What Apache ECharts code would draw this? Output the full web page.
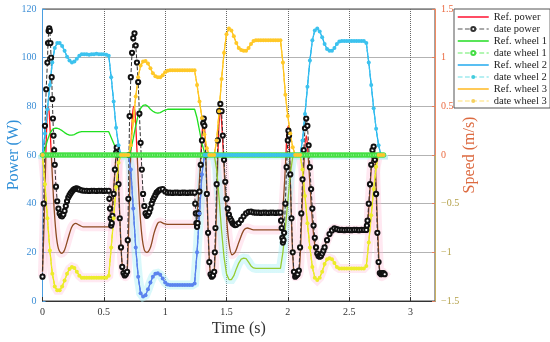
<!DOCTYPE html>
<html><head><meta charset="utf-8">
<script src="https://cdn.jsdelivr.net/npm/echarts@6/dist/echarts.min.js"></script>
<style>html,body{margin:0;padding:0;background:#fff}#c{width:550px;height:342px}</style>
</head><body><div id="c"></div>
<script>
// ---- data ----
const seriesNames = ['Ref. power','date power','Ref. wheel 1','date wheel 1','Ref. wheel 2','date wheel 2','Ref. wheel 3','date wheel 3'];
const xTicks = [0, 0.5, 1, 1.5, 2, 2.5, 3];
const powerTicks = [0, 20, 40, 60, 80, 100, 120];
const speedTicks = [-1.5, -1, -0.5, 0, 0.5, 1, 1.5];

// time base of the wheel speeds (s)
const time = [
0,0.02,0.04,0.06,0.08,0.1,0.12,0.14,0.16,0.18,
0.2,0.22,0.24,0.26,0.28,0.3,0.32,0.34,0.36,0.38,
0.4,0.42,0.44,0.46,0.48,0.5,0.52,0.54,0.56,0.58,
0.6,0.62,0.64,0.66,0.68,0.7,0.72,0.74,0.76,0.78,
0.8,0.82,0.84,0.86,0.88,0.9,0.92,0.94,0.96,0.98,
1,1.02,1.04,1.06,1.08,1.1,1.12,1.14,1.16,1.18,
1.2,1.22,1.24,1.26,1.28,1.3,1.32,1.34,1.36,1.38,
1.4,1.42,1.44,1.46,1.48,1.5,1.52,1.54,1.56,1.58,
1.6,1.62,1.64,1.66,1.68,1.7,1.72,1.74,1.76,1.78,
1.8,1.82,1.84,1.86,1.88,1.9,1.92,1.94,1.96,1.98,
2,2.02,2.04,2.06,2.08,2.1,2.12,2.14,2.16,2.18,
2.2,2.22,2.24,2.26,2.28,2.3,2.32,2.34,2.36,2.38,
2.4,2.42,2.44,2.46,2.48,2.5,2.52,2.54,2.56,2.58,
2.6,2.62,2.64,2.66,2.68,2.7,2.72,2.74,2.76,2.78];

// wheel speeds (m/s)
const refWheel1 = [
0,0.06,0.15,0.22,0.26,0.275,0.275,0.265,0.25,0.23,
0.215,0.205,0.205,0.21,0.225,0.235,0.24,0.24,0.24,0.24,
0.24,0.24,0.24,0.24,0.24,0.24,0.24,0.24,0.18,0.12,
0.06,0.02,0,0,0,0,0.05,0.17,0.3,0.41,
0.48,0.51,0.515,0.5,0.47,0.45,0.435,0.43,0.435,0.45,
0.46,0.47,0.47,0.47,0.47,0.47,0.47,0.47,0.47,0.47,
0.47,0.47,0.47,0.38,0.25,0.12,0.03,0,0,0,
0,-0.15,-0.45,-0.78,-1.05,-1.22,-1.28,-1.28,-1.24,-1.17,
-1.11,-1.07,-1.06,-1.065,-1.1,-1.14,-1.16,-1.165,-1.165,-1.165,
-1.165,-1.165,-1.165,-1.165,-1.165,-1.165,-1.165,-1.165,-1,-0.75,
-0.48,-0.2,-0.02,0,0,0,0,0,0,0,
0,0,0,0,0,0,0,0,0,0,
0,0,0,0,0,0,0,0,0,0,
0,0,0,0,0,0,0,0,0,0];
const dateWheel1 = [
0,0,0,0,0,0,0,0,0,0, 0,0,0,0,0,0,0,0,0,0,
0,0,0,0,0,0,0,0,0,0, 0,0,0,0,0,0,0,0,0,0,
0,0,0,0,0,0,0,0,0,0, 0,0,0,0,0,0,0,0,0,0,
0,0,0,0,0,0,0,0,0,0, 0,0,0,0,0,0,0,0,0,0,
0,0,0,0,0,0,0,0,0,0, 0,0,0,0,0,0,0,0,0,0,
0,0,0,0,0,0,0,0,0,0, 0,0,0,0,0,0,0,0,0,0,
0,0,0,0,0,0,0,0,0,0, 0,0,0,0,0,0,0,0,0,0];
const wheel2 = [
0,0.22,0.47,0.72,0.95,1.1,1.15,1.15,1.12,1.07,
1.01,0.97,0.95,0.96,0.99,1.02,1.035,1.035,1.035,1.03,
1.035,1.035,1.04,1.035,1.035,1.035,1.03,1.02,0.8,0.55,
0.28,0.1,0,0,0,0,-0.15,-0.55,-0.95,-1.25,
-1.42,-1.455,-1.44,-1.38,-1.31,-1.25,-1.22,-1.215,-1.23,-1.27,
-1.31,-1.33,-1.335,-1.335,-1.335,-1.335,-1.335,-1.335,-1.335,-1.335,
-1.335,-1.335,-1.32,-1,-0.6,-0.2,0,0,0,0,
0,0,0,0,0,0,0,0,0,0,
0,0,0,0,0,0,0,0,0,0,
0,0,0,0,0,0,0,0,0,0,
0,0,0,0,0,0,0.15,0.42,0.7,0.97,
1.18,1.28,1.3,1.27,1.21,1.14,1.09,1.07,1.07,1.1,
1.14,1.165,1.17,1.17,1.17,1.17,1.17,1.17,1.17,1.17,
1.17,1.17,1.15,0.95,0.72,0.48,0.27,0.1,0,0];
const wheel3 = [
0,-0.3,-0.65,-0.98,-1.22,-1.35,-1.39,-1.39,-1.35,-1.29,
-1.22,-1.17,-1.15,-1.16,-1.2,-1.24,-1.26,-1.26,-1.26,-1.26,
-1.26,-1.26,-1.26,-1.26,-1.26,-1.26,-1.26,-1.24,-0.95,-0.65,
-0.33,-0.08,0,0,0,0,0.1,0.35,0.6,0.8,
0.92,0.96,0.965,0.94,0.89,0.84,0.81,0.8,0.8,0.82,
0.85,0.865,0.87,0.87,0.87,0.87,0.87,0.87,0.87,0.87,
0.87,0.87,0.87,0.72,0.55,0.38,0.21,0.07,0,0,
0,0.15,0.45,0.78,1.05,1.24,1.3,1.28,1.22,1.15,
1.1,1.08,1.07,1.07,1.1,1.14,1.17,1.18,1.18,1.18,
1.18,1.18,1.18,1.18,1.18,1.18,1.18,1.18,0.95,0.62,
0.4,0.22,0.08,0,0,0,-0.15,-0.42,-0.7,-0.95,
-1.15,-1.26,-1.285,-1.26,-1.2,-1.12,-1.07,-1.06,-1.07,-1.11,
-1.15,-1.165,-1.165,-1.165,-1.165,-1.165,-1.165,-1.165,-1.165,-1.165,
-1.165,-1.165,-1.14,-0.9,-0.62,-0.35,-0.12,0,0,0];

// power (W): [time (s), power]
const refPower = [
[0,12],[0.015,35],[0.03,65],[0.045,80],[0.055,77],[0.07,62],[0.09,42],[0.11,28],[0.13,21.5],[0.155,19.6],
[0.18,21],[0.21,26],[0.24,30.5],[0.27,31.9],[0.3,31.2],[0.33,30.5],[0.54,30.5],[0.56,34],[0.58,46],[0.6,60],
[0.605,63],[0.615,55],[0.63,35],[0.645,18],[0.66,11],[0.675,10],[0.69,11.5],[0.705,35],[0.72,62],[0.735,77],
[0.745,80],[0.755,77],[0.77,62],[0.79,40],[0.81,27],[0.83,21],[0.85,20],[0.88,22],[0.91,28],[0.94,32],
[0.96,32.5],[0.99,31.8],[1.02,31.5],[1.24,31.5],[1.26,36],[1.28,50],[1.3,68],[1.315,75],[1.33,62],[1.35,30],
[1.365,13],[1.38,10.5],[1.4,12],[1.42,40],[1.435,68],[1.45,78],[1.46,74],[1.48,55],[1.5,35],[1.52,24],
[1.545,19],[1.57,20],[1.6,24],[1.64,29],[1.67,30],[1.7,29.5],[1.73,29.2],[1.94,29.2],[1.96,38],[1.98,55],
[1.995,70],[2.005,72],[2.02,50],[2.035,25],[2.05,11],[2.06,10],[2.09,11],[2.11,30],[2.13,55],[2.15,68],
[2.16,64],[2.18,48],[2.2,33],[2.22,23],[2.24,19],[2.26,18.5],[2.29,21],[2.32,25],[2.35,28.5],[2.38,29.9],
[2.41,29.4],[2.44,29.2],[2.64,29.2],[2.66,38],[2.68,54],[2.7,63],[2.71,60],[2.725,40],[2.74,20],[2.75,12],
[2.765,10],[2.79,11]];
const datePower = [
[0,10],[0.01,40],[0.02,72],[0.03,87],[0.04,98],[0.045,106],[0.05,111],[0.055,112],[0.06,111],[0.065,106],
[0.07,100],[0.075,92],[0.08,83],[0.085,75],[0.09,68],[0.095,62],[0.1,56],[0.11,47],[0.12,41],[0.13,38],
[0.14,36],[0.15,35],[0.16,34.8],[0.17,35.5],[0.18,37],[0.19,39],[0.2,41],[0.21,42.5],[0.22,43.5],[0.23,44.3],
[0.24,45],[0.25,45.6],[0.26,46],[0.27,46.2],[0.28,46.3],[0.29,46],[0.3,45.8],[0.32,45.5],[0.34,45.3],[0.36,45.3],
[0.38,45.2],[0.4,45.3],[0.42,45.3],[0.44,45.2],[0.46,45.3],[0.48,45.3],[0.5,45.2],[0.52,45.3],[0.54,45.3],[0.545,42],
[0.55,38],[0.555,34],[0.56,31],[0.565,32],[0.57,35],[0.58,44],[0.59,54],[0.6,61],[0.605,63],[0.61,60],
[0.62,48],[0.63,34],[0.64,22],[0.65,14],[0.66,11.5],[0.67,10.5],[0.68,11],[0.69,12],[0.695,25],[0.7,42],
[0.705,60],[0.71,76],[0.72,92],[0.73,102],[0.74,108],[0.75,110],[0.76,105],[0.77,98],[0.78,90],[0.79,77],
[0.8,65],[0.81,54],[0.82,44],[0.83,39],[0.84,36],[0.85,35],[0.86,35.5],[0.87,36.5],[0.88,38],[0.89,40],
[0.9,41.5],[0.91,42.5],[0.92,43.5],[0.93,44.5],[0.94,45],[0.95,45.5],[0.96,45.8],[0.98,46],[1,45],[1.02,44.5],
[1.04,44.5],[1.06,44.4],[1.08,44.5],[1.1,44.5],[1.12,44.4],[1.14,44.5],[1.16,44.5],[1.18,44.4],[1.2,44.5],[1.22,44.5],
[1.24,44.5],[1.245,40],[1.25,36],[1.255,32],[1.26,30.5],[1.265,32],[1.27,36],[1.28,45],[1.29,56],[1.3,66],
[1.31,73],[1.315,75],[1.32,72],[1.33,60],[1.34,44],[1.35,28],[1.36,16],[1.37,11],[1.38,10],[1.39,10.5],
[1.4,12],[1.405,20],[1.41,30],[1.42,48],[1.43,66],[1.44,78],[1.45,81],[1.46,78],[1.47,68],[1.48,58],
[1.49,49],[1.5,42],[1.51,38],[1.52,35.5],[1.53,34],[1.54,33],[1.55,32],[1.56,31.5],[1.57,31.2],[1.58,31.3],
[1.6,32],[1.62,33.3],[1.64,34.8],[1.66,36],[1.68,36.6],[1.7,36.7],[1.72,36.4],[1.74,36.3],[1.76,36.3],[1.78,36.2],
[1.8,36.3],[1.82,36.3],[1.84,36.2],[1.86,36.3],[1.88,36.3],[1.9,36.2],[1.92,36.3],[1.94,36.3],[1.945,33],[1.95,30],
[1.955,26],[1.96,24],[1.965,25],[1.97,28],[1.98,40],[1.99,55],[2,66],[2.005,70],[2.01,68],[2.02,52],
[2.03,34],[2.04,20],[2.05,12],[2.06,10],[2.07,10.5],[2.08,11],[2.09,12.5],[2.1,22],[2.11,36],[2.12,50],
[2.13,62],[2.14,71],[2.15,75],[2.16,72],[2.17,64],[2.18,55],[2.19,46],[2.2,38],[2.21,31],[2.22,26],
[2.23,22],[2.24,19.5],[2.25,18.5],[2.26,18.2],[2.27,18.5],[2.28,19.5],[2.29,20.7],[2.3,22],[2.32,25],[2.34,27.5],
[2.36,29],[2.38,29.9],[2.4,29.5],[2.42,29.2],[2.44,29.2],[2.46,29.1],[2.48,29.2],[2.5,29.2],[2.52,29.1],[2.54,29.2],
[2.56,29.2],[2.58,29.1],[2.6,29.2],[2.62,29.2],[2.64,29.2],[2.645,31],[2.65,33],[2.66,40],[2.67,48],[2.68,56],
[2.69,62],[2.7,63.5],[2.71,58],[2.72,44],[2.73,28],[2.74,16],[2.75,11.5],[2.76,11],[2.77,11.5],[2.78,11.5],
[2.79,11]];

// ---- chart ----
const FONT = 'Liberation Serif';
const chart = echarts.init(document.getElementById('c'));
const pair = arr => time.map((t, i) => [t, arr[i]]);

const styles = {
  refPower:  {up: '#ff1418', low: '#8e4a22'},
  refWheel1: {up: '#1fe01f', low: '#96cc30'},
  refWheel2: {up: '#1aaef0', low: '#4e72e6'},
  dateWheel2:{up: '#3cc2ee', low: '#5b84ee'},
  refWheel3: {up: '#ffbf10', low: '#e4e414'},
  dateWheel3:{up: '#ffc828', low: '#ecec2a'},
  haloPink:  {up: 'rgba(255,255,255,0)', low: 'rgba(255,190,215,0.35)'},
  haloCyan:  {up: 'rgba(255,255,255,0)', low: 'rgba(170,240,245,0.45)'}
};

function buildOption(py) {
  const H = 342;
  const o = py / H;
  const grad = (s) => new echarts.graphic.LinearGradient(0, 0, 0, H, [
      {offset: 0, color: s.up}, {offset: o, color: s.up},
      {offset: o, color: s.low}, {offset: 1, color: s.low}], true);
  const symColor = (s) => (p) => (p.value[1] < 0 ? s.low : s.up);
  const halo = (data, yIdx, s, smooth) => ({
    type: 'line', yAxisIndex: yIdx, data: data, symbol: 'none', silent: true, smooth: smooth || false, z: 1,
    lineStyle: {color: grad(s), width: 9, cap: 'square', join: 'miter'}
  });
  const hiddenSym = {opacity: 0};
  return {
    animation: false,
    backgroundColor: '#fff',
    grid: {left: 42.5, right: 115, top: 9, bottom: 41, show: true, borderColor: '#444', borderWidth: 1,
      outerBoundsMode: 'none', containLabel: false},
    legend: {
      orient: 'vertical', left: 454, top: 9,
      backgroundColor: '#fff', borderColor: '#555', borderWidth: 1,
      padding: [2, 3, 1, 3], itemWidth: 31, itemHeight: 5, itemGap: 0,
      textStyle: {fontFamily: FONT, fontSize: 10.5, color: '#222', lineHeight: 12},
      data: [
        {name: seriesNames[0], lineStyle: {color: '#ff1030', width: 1.5}, itemStyle: hiddenSym},
        {name: seriesNames[1], lineStyle: {color: '#555', type: 'dashed', width: 1.2}, itemStyle: {color: '#333'}},
        {name: seriesNames[2], lineStyle: {color: '#22dd22', width: 1.5}, itemStyle: hiddenSym},
        {name: seriesNames[3], lineStyle: {color: '#66ee66', type: 'dashed', width: 1.2}, itemStyle: {color: '#44dd44'}},
        {name: seriesNames[4], lineStyle: {color: '#22aaee', width: 1.5}, itemStyle: hiddenSym},
        {name: seriesNames[5], lineStyle: {color: '#6ee0e6', type: 'dashed', width: 1.2}, itemStyle: {color: '#44ccdd'}},
        {name: seriesNames[6], lineStyle: {color: '#ffb820', width: 1.5}, itemStyle: hiddenSym},
        {name: seriesNames[7], lineStyle: {color: '#ffe070', type: 'dashed', width: 1.2}, itemStyle: {color: '#f5d060'}}
      ]
    },
    xAxis: {
      type: 'value', min: xTicks[0], max: 3.2, interval: 0.5,
      name: 'Time (s)', nameLocation: 'middle', nameGap: 20, nameMoveOverlap: false,
      nameTextStyle: {fontFamily: FONT, fontSize: 16, color: '#333'},
      axisLine: {lineStyle: {color: '#333'}},
      axisTick: {inside: true, length: 4, lineStyle: {color: '#333'}},
      axisLabel: {showMaxLabel: false, fontFamily: FONT, fontSize: 10, color: '#333', margin: 6},
      splitLine: {show: true, lineStyle: {type: 'dotted', color: '#666'}}
    },
    yAxis: [{
      type: 'value', min: powerTicks[0], max: powerTicks[powerTicks.length - 1], interval: 20, position: 'left',
      name: 'Power (W)', nameLocation: 'middle', nameRotate: 90, nameGap: 21, nameMoveOverlap: false,
      nameTextStyle: {fontFamily: FONT, fontSize: 16, color: '#2f8fd8'},
      axisLine: {show: true, lineStyle: {color: '#4a9ee0'}},
      axisTick: {show: true, inside: true, length: 3, lineStyle: {color: '#4a9ee0'}},
      axisLabel: {fontFamily: FONT, fontSize: 10, color: '#3d8fd6', margin: 6},
      splitLine: {show: true, lineStyle: {type: 'dotted', color: '#666'}}
    }, {
      type: 'value', min: speedTicks[0], max: speedTicks[speedTicks.length - 1], interval: 0.5, position: 'right',
      name: 'Speed (m/s)', nameLocation: 'middle', nameRotate: 90, nameGap: 27, nameMoveOverlap: false,
      nameTextStyle: {fontFamily: FONT, fontSize: 16, color: '#dc6a40'},
      axisLine: {show: true, lineStyle: {color: new echarts.graphic.LinearGradient(0, 0, 0, H, [
        {offset: 0, color: '#f08a62'}, {offset: o, color: '#f08a62'},
        {offset: o, color: '#c8b060'}, {offset: 1, color: '#c8b060'}], true)}},
      axisTick: {show: true, inside: true, length: 3, lineStyle: {color: '#e08060'}},
      axisLabel: {fontFamily: FONT, fontSize: 10, margin: 6,
        formatter: (v) => (v < 0 ? '{n|\u2212' + Math.abs(v) + '}' : '{p|' + v + '}'),
        rich: {n: {fontFamily: FONT, fontSize: 10, color: '#b3a048'}, p: {fontFamily: FONT, fontSize: 10, color: '#ea6a40'}}},
      splitLine: {show: false}
    }],
    series: [
      halo(refPower, 0, styles.haloPink, 0.3),
      halo(pair(wheel3), 1, styles.haloPink),
      halo(pair(wheel2), 1, styles.haloCyan),
      halo(pair(refWheel1), 1, styles.haloCyan),
      {name: seriesNames[0], type: 'line', yAxisIndex: 0, data: refPower, smooth: 0.3, symbol: 'none',
        lineStyle: {color: grad(styles.refPower), width: 1.3}, itemStyle: {color: '#ff1030'}},
      {name: seriesNames[1], type: 'line', yAxisIndex: 0, data: datePower, symbol: 'emptyCircle', symbolSize: 4.2, showAllSymbol: true,
        lineStyle: {color: '#333', width: 1, type: 'dashed'}, itemStyle: {color: '#111', borderWidth: 1}},
      {name: seriesNames[2], type: 'line', yAxisIndex: 1, data: pair(refWheel1), symbol: 'none',
        lineStyle: {color: grad(styles.refWheel1), width: 1.3}, itemStyle: {color: '#22dd22'}},
      {name: seriesNames[3], type: 'line', yAxisIndex: 1, data: pair(dateWheel1), symbol: 'emptyCircle', symbolSize: 3.6, showAllSymbol: true,
        lineStyle: {color: '#66ee66', width: 1, type: 'dashed'}, itemStyle: {color: '#44e044', borderWidth: 0.9}},
      {name: seriesNames[4], type: 'line', yAxisIndex: 1, data: pair(wheel2), symbol: 'none',
        lineStyle: {color: grad(styles.refWheel2), width: 1.3}, itemStyle: {color: '#22aaee'}},
      {name: seriesNames[5], type: 'line', yAxisIndex: 1, data: pair(wheel2), symbol: 'circle', symbolSize: 4, showAllSymbol: true,
        lineStyle: {color: grad(styles.dateWheel2), width: 1, type: 'dashed'}, itemStyle: {color: symColor(styles.dateWheel2)}},
      {name: seriesNames[6], type: 'line', yAxisIndex: 1, data: pair(wheel3), symbol: 'none',
        lineStyle: {color: grad(styles.refWheel3), width: 1.3}, itemStyle: {color: '#ffb820'}},
      {name: seriesNames[7], type: 'line', yAxisIndex: 1, data: pair(wheel3), symbol: 'circle', symbolSize: 4, showAllSymbol: true,
        lineStyle: {color: grad(styles.dateWheel3), width: 1, type: 'dashed'}, itemStyle: {color: symColor(styles.dateWheel3)}}
    ]
  };
}

chart.setOption(buildOption(155));
const py = chart.convertToPixel({yAxisIndex: 0}, 60);
chart.setOption(buildOption(py), true);
</script>
</body></html>
